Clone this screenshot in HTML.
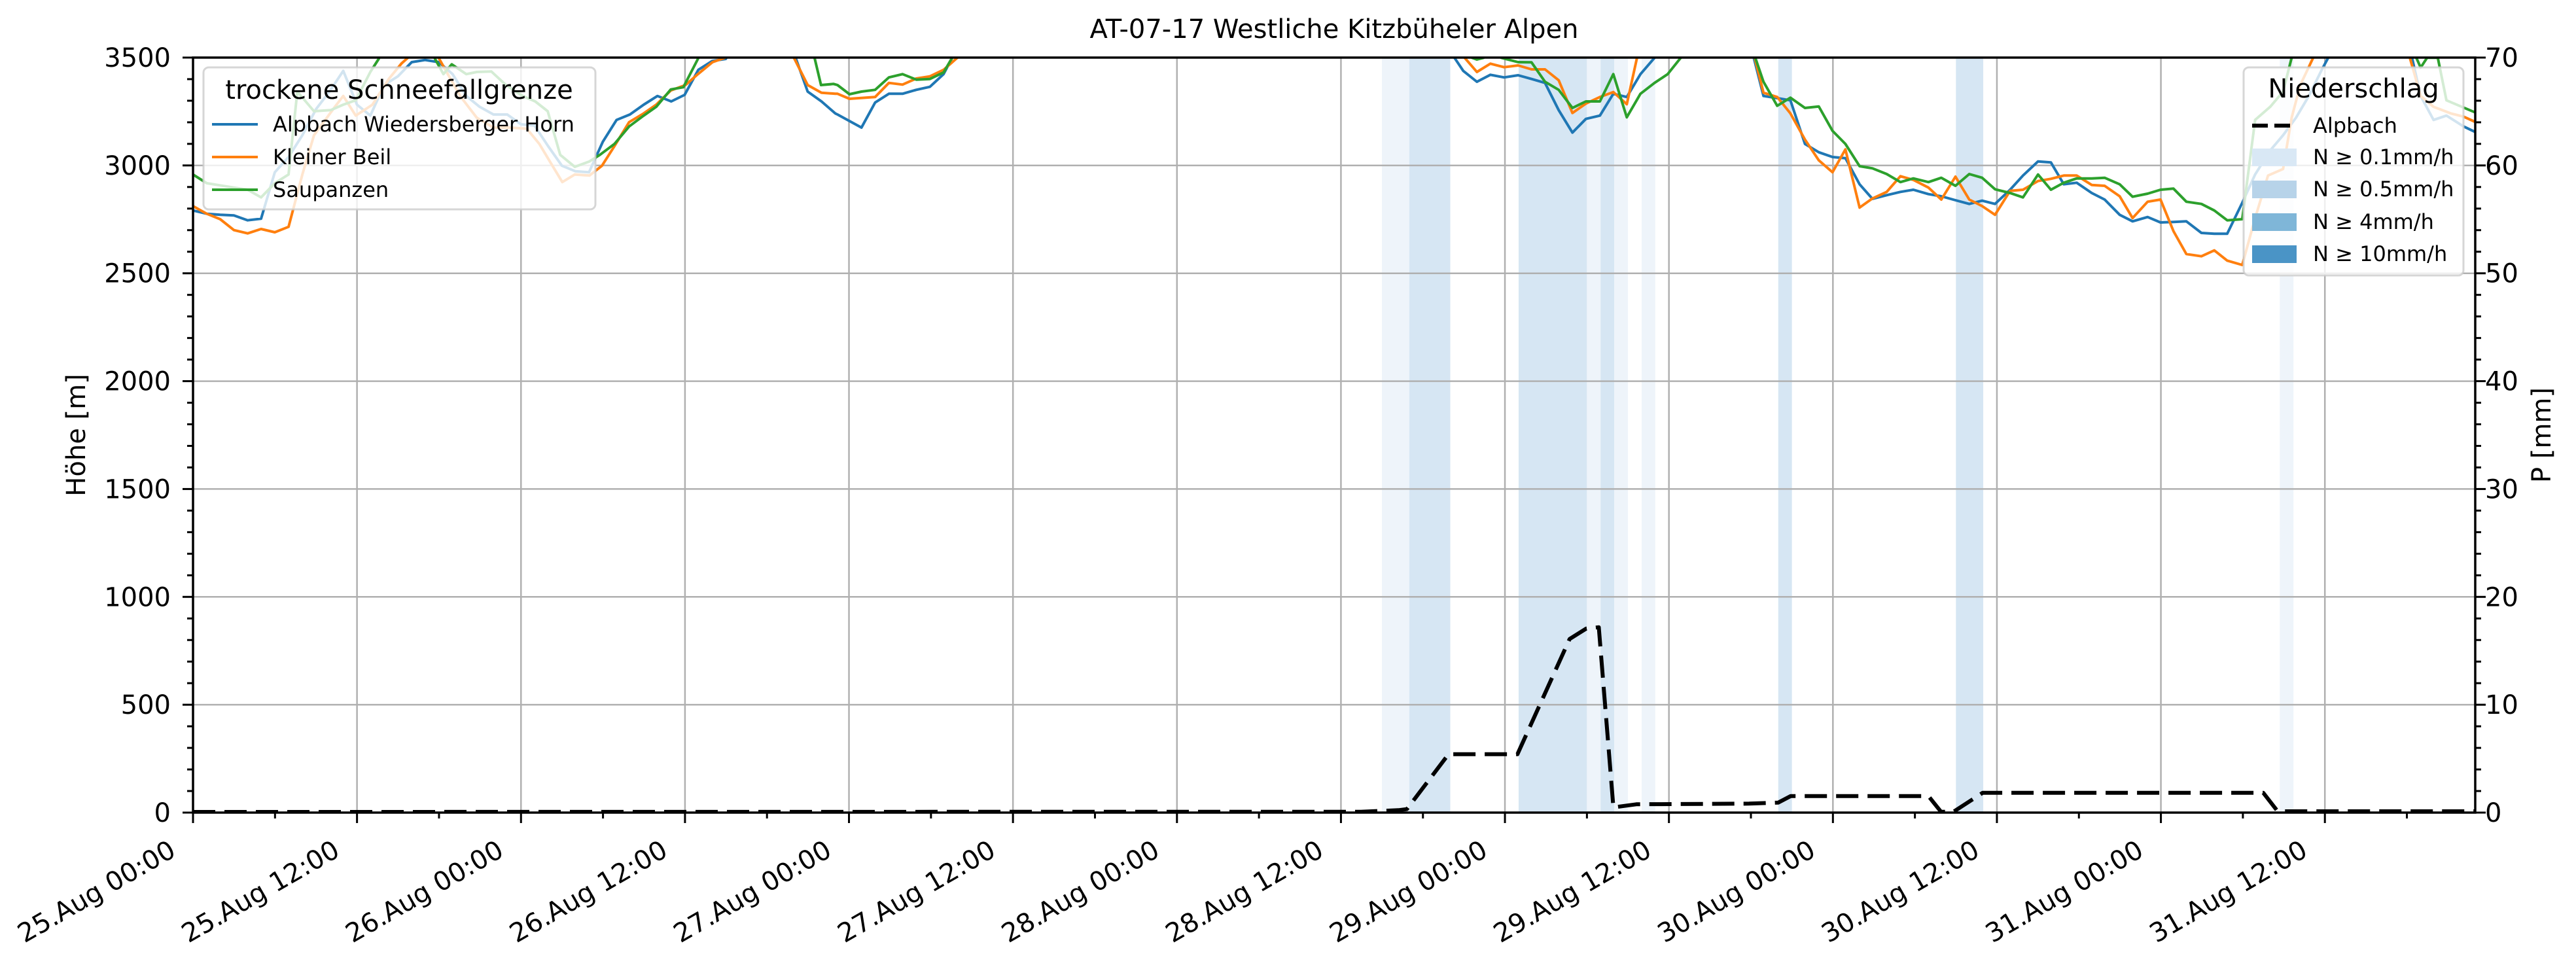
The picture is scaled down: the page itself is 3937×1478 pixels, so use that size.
<!DOCTYPE html>
<html><head><meta charset="utf-8"><style>
html,body{margin:0;padding:0;background:#fff;}
svg{display:block;font-family:"DejaVu Sans","Liberation Sans",sans-serif;}
</style></head><body>
<svg id="s" width="3937" height="1478" viewBox="0 0 3937 1478" xmlns="http://www.w3.org/2000/svg">
<defs><clipPath id="c"><rect x="295" y="88" width="3488" height="1154"/></clipPath></defs>
<rect width="3937" height="1478" fill="#fff"/>
<g id="bands"></g>
<g id="grid" stroke="#b0b0b0" stroke-width="2.5"></g>
<g id="lines" clip-path="url(#c)" fill="none" stroke-linejoin="round"></g>
<rect x="295" y="88" width="3488" height="1154" fill="none" stroke="#000" stroke-width="3.5"/>
<g id="ticks" stroke="#000" stroke-width="3"></g>
<g id="labels" font-size="40" fill="#000"></g>
<text x="2039" y="58" font-size="40" text-anchor="middle">AT-07-17 Westliche Kitzbüheler Alpen</text>
<text transform="translate(130,665) rotate(-90)" font-size="40" text-anchor="middle">Höhe [m]</text>
<text transform="translate(3898,665) rotate(-90)" font-size="40" text-anchor="middle">P [mm]</text>
<!-- legend 1 -->
<rect x="311" y="103" width="599" height="217" rx="8" fill="#fff" fill-opacity="0.8" stroke="#cccccc" stroke-opacity="0.8" stroke-width="3"/>
<text x="610" y="151" font-size="40" text-anchor="middle">trockene Schneefallgrenze</text>
<line x1="324" y1="190" x2="394" y2="190" stroke="#1f77b4" stroke-width="4"/>
<line x1="324" y1="240" x2="394" y2="240" stroke="#ff7f0e" stroke-width="4"/>
<line x1="324" y1="290" x2="394" y2="290" stroke="#2ca02c" stroke-width="4"/>
<text x="417" y="201" font-size="32">Alpbach Wiedersberger Horn</text>
<text x="417" y="251" font-size="32">Kleiner Beil</text>
<text x="417" y="301" font-size="32">Saupanzen</text>
<!-- legend 2 -->
<rect x="3429" y="103" width="336" height="318" rx="8" fill="#fff" fill-opacity="0.8" stroke="#cccccc" stroke-opacity="0.8" stroke-width="3"/>
<text x="3597" y="149" font-size="40" text-anchor="middle">Niederschlag</text>
<line x1="3442" y1="192" x2="3510" y2="192" stroke="#000" stroke-width="6" stroke-dasharray="24,10"/>
<rect x="3442" y="227" width="68" height="27" fill="#d9e8f5"/>
<rect x="3442" y="276" width="68" height="27" fill="#b7d3e9"/>
<rect x="3442" y="326" width="68" height="27" fill="#7fb6d8"/>
<rect x="3442" y="375" width="68" height="27" fill="#4a94c6"/>
<text x="3535" y="203" font-size="32">Alpbach</text>
<text x="3535" y="251" font-size="32">N ≥ 0.1mm/h</text>
<text x="3535" y="300" font-size="32">N ≥ 0.5mm/h</text>
<text x="3535" y="350" font-size="32">N ≥ 4mm/h</text>
<text x="3535" y="399" font-size="32">N ≥ 10mm/h</text>
</svg>
<script>
var NS="http://www.w3.org/2000/svg";
function el(p,t,a,txt){var e=document.createElementNS(NS,t);for(var k in a)e.setAttribute(k,a[k]);if(txt!=null)e.textContent=txt;document.getElementById(p).appendChild(e);return e;}
var X0=295,PX=20.886,T=88,B=1242;
function hx(h){return X0+h*PX;}
// bands
var bands=[[87,89,'#eef4fa'],[89,92,'#d6e6f3'],[97,102,'#d6e6f3'],[102,103,'#eef4fa'],[103,104,'#d6e6f3'],[104,105,'#eef4fa'],[106,107,'#eef4fa'],[116,117,'#d6e6f3'],[129,131,'#d6e6f3'],[152.7,153.7,'#eef4fa']];
bands.forEach(function(b){el('bands','rect',{x:hx(b[0]),y:T,width:(b[1]-b[0])*PX,height:B-T,fill:b[2]});});
// grid + ticks
for(var h=0;h<=167;h+=6){var x=hx(h);var maj=(h%12==0);
 if(maj&&h>0)el('grid','line',{x1:x,y1:T,x2:x,y2:B});
 el('ticks','line',{x1:x,y1:B,x2:x,y2:B+(maj?16:9)});
 if(maj){var d=25+Math.floor(h/24);var hh=(h%24==0)?'00:00':'12:00';
  var lx=x-24,ly=B+65;el('labels','text',{x:lx,y:ly,'text-anchor':'end',transform:'rotate(-30 '+lx+' '+ly+')'},d+'.Aug '+hh);}
}
for(var m=0;m<=3500;m+=100){var y=B-m*(B-T)/3500;var maj=(m%500==0);
 if(maj&&m>0&&m<3500)el('grid','line',{x1:X0,y1:y,x2:3783,y2:y});
 el('ticks','line',{x1:X0,y1:y,x2:X0-(maj?16:9),y2:y});
 if(maj)el('labels','text',{x:261,y:y+14,'text-anchor':'end'},''+m);
}
for(var p=0;p<=70;p+=2){var y=B-p*(B-T)/70;var maj=(p%10==0);
 el('ticks','line',{x1:3783,y1:y,x2:3783+(maj?16:9),y2:y});
 if(maj)el('labels','text',{x:3798,y:y+14},''+p);
}
function conv(arr,x0,sx){return arr.map(function(q){return [x0+q[0]/sx,80+q[1]/3];});}
function path(pts,col,w,dash){var d='M'+pts.map(function(p){return p[0].toFixed(1)+','+p[1].toFixed(1);}).join('L');
 var a={d:d,stroke:col,'stroke-width':w};if(dash)a['stroke-dasharray']=dash;el('lines','path',a);}
var Z6=function(a){return conv(a,295,1.568);},Z7=function(a){return conv(a,1280,1.912);},Z4=function(a){return conv(a,2080,2.24);},Z8=function(a){return conv(a,2760,1.522);};
var blue=[].concat(
Z6([[0,725],[33,740],[65,745],[98,748],[131,770],[163,763],[196,550],[229,480],[262,380],[295,260],[327,180],[360,85],[393,240],[425,290],[458,150],[491,110],[524,45],[556,35],[589,45],[622,100],[655,200],[687,250],[720,285],[753,285],[786,330],[818,335],[851,430],[884,520],[916,545],[949,550],[982,410],[1015,310],[1047,285],[1080,240],[1113,200],[1146,225],[1178,195],[1211,80],[1244,40],[1277,30],[1300,-100],[1400,-100],[1445,30],[1473,180],[1506,225],[1539,280]]),
Z7([[0,285],[70,345],[110,230],[150,190],[190,190],[230,172],[270,158],[310,100],[335,25],[360,-100]]),
Z4([[300,-100],[320,25],[350,85],[397,135],[443,103],[490,115],[538,105],[584,122],[630,140],[677,265],[724,368],[770,305],[818,290],[864,190],[910,205],[957,100],[1005,25],[1030,-100],[1320,-100],[1345,25],[1378,200],[1425,210],[1470,220],[1520,420]]),
Z8([[30,458],[62,480],[92,485],[125,605],[155,672],[188,655],[220,640],[250,630],[285,650],[315,660],[348,678],[380,695],[410,680],[440,695],[475,630],[505,565],[540,500],[570,505],[600,605],[630,598],[665,645],[695,675],[730,745],[760,775],[795,755],[825,780],[855,778],[885,775],[920,828],[950,832],[980,832],[1015,690],[1045,560],[1080,450],[1110,380],[1140,300],[1170,200],[1200,80],[1215,25],[1240,-100],[1390,-100],[1410,25],[1430,200],[1460,310],[1490,290],[1530,340],[1560,368]]));
var orange=[].concat(
Z6([[0,705],[33,740],[65,765],[98,815],[131,830],[163,810],[196,825],[229,800],[262,560],[290,380],[340,250],[360,200],[390,290],[430,240],[470,120],[500,50],[515,25],[540,-100],[570,-100],[590,30],[640,200],[680,300],[720,345],[760,345],[800,350],[830,420],[855,500],[885,595],[915,560],[950,565],[980,520],[1010,430],[1045,320],[1080,280],[1110,240],[1145,175],[1180,150],[1210,100],[1245,45],[1275,25],[1300,-100],[1420,-100],[1440,25],[1473,150],[1506,185],[1539,190]]),
Z7([[0,190],[35,213],[110,205],[150,140],[190,148],[230,120],[270,110],[310,80],[350,25],[380,-100]]),
Z4([[330,-100],[355,25],[397,90],[443,52],[490,68],[538,60],[584,78],[630,78],[677,128],[724,278],[770,235],[818,205],[864,182],[910,238],[945,25],[970,-100],[1320,-100],[1348,25],[1378,185],[1425,205],[1470,280],[1520,400]]),
Z8([[30,495],[62,550],[92,445],[125,712],[155,670],[188,640],[220,568],[250,585],[285,620],[315,675],[348,570],[380,675],[410,705],[440,745],[475,635],[505,630],[540,590],[570,580],[600,565],[630,565],[665,608],[695,612],[730,660],[760,760],[795,685],[825,675],[855,820],[885,925],[920,935],[950,908],[980,955],[1015,975],[1045,760],[1075,565],[1110,535],[1130,300],[1150,150],[1180,25],[1200,-100],[1390,-100],[1405,25],[1430,200],[1460,250],[1500,280],[1530,295],[1560,322]]));
var green=[].concat(
Z6([[0,560],[33,600],[65,610],[98,620],[131,630],[163,665],[196,600],[229,560],[250,180],[290,270],[330,265],[360,240],[390,220],[425,90],[445,30],[470,-100],[560,-100],[580,30],[600,100],[620,55],[655,100],[680,90],[715,88],[750,150],[790,200],[820,225],[850,270],[880,470],[915,525],[950,500],[975,470],[1010,420],[1045,340],[1080,290],[1110,250],[1145,170],[1175,160],[1210,30],[1240,-100],[1470,-100],[1490,30],[1505,150],[1535,145]]),
Z7([[0,150],[35,192],[70,180],[110,172],[150,115],[190,100],[230,125],[270,122],[310,92],[335,25],[360,-100]]),
Z4([[360,-100],[380,25],[397,33],[420,25],[460,-100],[480,25],[538,45],[584,46],[630,135],[677,172],[724,255],[770,225],[818,225],[864,100],[910,298],[957,190],[1005,140],[1050,100],[1095,25],[1120,-100],[1330,-100],[1350,25],[1378,135],[1425,245],[1470,208],[1520,255]]),
Z8([[30,248],[62,360],[92,420],[125,522],[155,532],[188,558],[220,595],[250,578],[285,595],[315,575],[348,612],[380,558],[410,575],[440,628],[475,645],[505,665],[540,560],[570,630],[600,598],[630,578],[665,578],[695,575],[730,605],[760,662],[795,648],[825,630],[855,625],[885,685],[920,695],[950,725],[980,770],[1015,765],[1045,310],[1080,250],[1110,180],[1130,25],[1150,-100],[1400,-100],[1420,25],[1430,70],[1445,25],[1470,25],[1490,220],[1520,245],[1560,278]]));
path(blue,'#1f77b4',4);path(orange,'#ff7f0e',4);path(green,'#2ca02c',4);
var pr=[[295,1241]].concat(conv([[0,1172],[90,1165],[110,1160],[210,908],[375,908],[500,380],[540,332],[570,326],[605,1152],[660,1138],[930,1135],[1000,1130],[1030,1100],[1360,1100],[1390,1172],[1420,1172],[1490,1085],[1568,1085]].map(function(q){return [q[0],q[1]];}),2080,1.568).map(function(p){return [p[0],850+(p[1]-80)*3/3-0+0];}));
// fix y for Z5 crop (origin y=850)
pr=[[295,1241]];
[[0,1172],[90,1165],[110,1160],[210,908],[375,908],[500,380],[540,332],[570,326],[605,1152],[660,1138],[930,1135],[1000,1130],[1030,1100],[1360,1100],[1390,1172],[1420,1172],[1490,1085],[1568,1085]].forEach(function(q){pr.push([2080+q[0]/1.568,850+q[1]/3]);});
pr.push([3459,1211.7],[3481,1240],[3783,1240]);
path(pr,'#000',6,'34,14');
</script>
</body></html>
